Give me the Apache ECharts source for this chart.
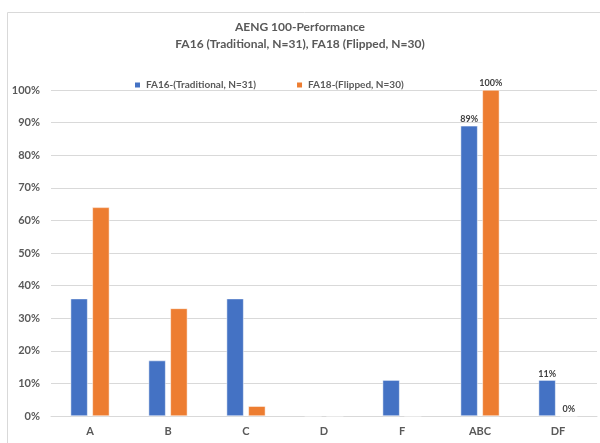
<!DOCTYPE html>
<html><head><meta charset="utf-8">
<script src="https://cdn.jsdelivr.net/npm/echarts@6/dist/echarts.min.js"></script>
<style>html,body{margin:0;padding:0;background:#fff}#c{width:600px;height:443px}</style>
</head><body><div id="c"></div>
<script>
var categories = ['A','B','C','D','F','ABC','DF'];
var fa16 = [36, 17, 36, 0, 11, 89, 11];
var fa18 = [64, 33, 3, 0, 0, 100, 0];
var yTicks = [0,10,20,30,40,50,60,70,80,90,100];
var labeled = ['ABC','DF'];
var names = ['FA16-(Traditional, N=31)','FA18-(Flipped, N=30)'];
var FONT = 'Lato';
var chart = echarts.init(document.getElementById('c'), null, {renderer:'canvas'});
function mk(vals, showLabelFor){
  return vals.map(function(v,i){
    var show = showLabelFor.indexOf(categories[i]) >= 0;
    return {value: v, label: {show: show}};
  });
}
chart.setOption({
  animation:false,
  graphic:[{type:'rect', shape:{x:7.5,y:12.5,width:620,height:460}, style:{fill:null, stroke:'#d9d9d9', lineWidth:1}, silent:true}],
  title:{
    text:'AENG 100-Performance\nFA16 (Traditional, N=31), FA18 (Flipped, N=30)',
    left:'center', top:19, padding:0,
    textStyle:{fontFamily:FONT, fontSize:12, fontWeight:'bold', color:'#595959', lineHeight:17}
  },
  legend:{
    data:names, top:80, left:133, padding:0, itemWidth:7, itemHeight:7, itemGap:39,
    icon:'rect',
    textStyle:{fontFamily:FONT, fontSize:10, color:'#595959', fontWeight:'bold'}
  },
  grid:{left:51, right:3, top:90, bottom:27, containLabel:false},
  xAxis:{
    type:'category', data:categories,
    axisLine:{lineStyle:{color:'#d9d9d9'}}, axisTick:{show:false},
    axisLabel:{fontFamily:FONT, fontSize:11, fontWeight:'bold', color:'#595959', margin:10}
  },
  yAxis:{
    type:'value', min:0, max:100, interval:10,
    axisLabel:{formatter:'{value}%', fontFamily:FONT, fontSize:11, fontWeight:'bold', color:'#595959', margin:11},
    splitLine:{lineStyle:{color:'#d9d9d9'}}, axisLine:{show:false}, axisTick:{show:false}
  },
  series:[
    {name:names[0], type:'bar', data:mk(fa16, labeled), barWidth:17, barGap:'28%',
     itemStyle:{color:'#4472c4', borderColor:'#fff', borderWidth:0.5},
     label:{position:'top', formatter:'{c}%', fontFamily:FONT, fontSize:9, fontWeight:'bold', color:'#404040', distance:2}},
    {name:names[1], type:'bar', data:mk(fa18, labeled), barWidth:17,
     itemStyle:{color:'#ed7d31', borderColor:'#fff', borderWidth:0.5},
     label:{position:'top', formatter:'{c}%', fontFamily:FONT, fontSize:9, fontWeight:'bold', color:'#404040', distance:2}}
  ]
});
</script></body></html>
